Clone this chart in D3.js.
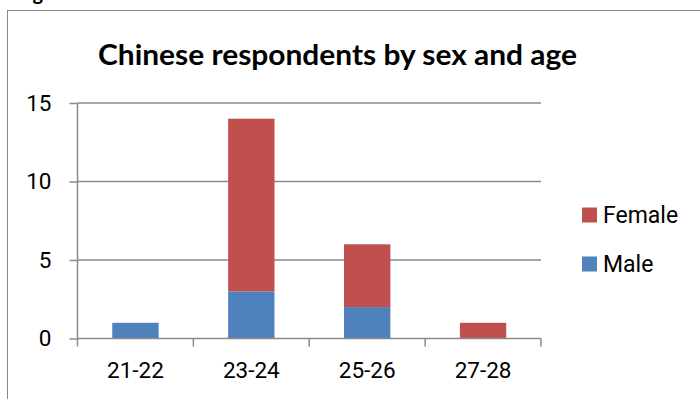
<!DOCTYPE html>
<html>
<head>
<meta charset="utf-8">
<script src="https://cdn.jsdelivr.net/npm/d3@7"></script>
<style>
  html, body { margin: 0; padding: 0; background: #fff; overflow: hidden; }
  svg { display: block; }
</style>
</head>
<body>
<svg id="chart" width="700" height="399"></svg>
<script>
// Respondent counts by age band, split by sex
const ageGroups = ["21-22", "23-24", "25-26", "27-28"];
const maleCounts = [1, 3, 2, 0];
const femaleCounts = [0, 11, 4, 1];
const yTicks = [0, 5, 10, 15];
const seriesNames = ["Male", "Female"];
const seriesColors = ["#4F81BD", "#C0504D"];

const rows = ageGroups.map((g, i) => ({ group: g, Male: maleCounts[i], Female: femaleCounts[i] }));

const svg = d3.select("#chart");
const gridColor = "#8a8a8a";
const labelFont = "Roboto, 'Liberation Sans', sans-serif";

// Caption above the chart frame (its top runs off the page)
svg.append("text")
  .attr("x", 16).attr("y", 0)
  .attr("font-family", "Lato, 'Open Sans', sans-serif")
  .attr("font-weight", "bold")
  .attr("font-size", 20)
  .attr("fill", "#000")
  .text("Figure");

// Chart frame
svg.append("rect")
  .attr("x", 7.5).attr("y", 10.5)
  .attr("width", 720).attr("height", 420)
  .attr("fill", "none")
  .attr("stroke", "#868686")
  .attr("stroke-width", 1);

// Title
svg.append("text")
  .attr("x", 98).attr("y", 65)
  .attr("textLength", 479)
  .attr("lengthAdjust", "spacingAndGlyphs")
  .attr("font-family", "Lato, 'Open Sans', sans-serif")
  .attr("font-weight", "bold")
  .attr("font-size", 28)
  .attr("fill", "#000")
  .text("Chinese respondents by sex and age");

const plot = { left: 77.5, right: 541, top: 103, bottom: 338.5 };

const x = d3.scaleBand()
  .domain(ageGroups)
  .range([plot.left, plot.right])
  .paddingInner(0.6)
  .paddingOuter(0.3);

const y = d3.scaleLinear()
  .domain([0, 15])
  .range([plot.bottom, plot.top]);

// Horizontal gridlines
svg.append("g")
  .selectAll("line")
  .data(yTicks.filter(t => t > 0))
  .join("line")
  .attr("x1", plot.left).attr("x2", plot.right)
  .attr("y1", d => y(d)).attr("y2", d => y(d))
  .attr("stroke", gridColor)
  .attr("stroke-width", 1.5);

// Stacked bars
const stacked = d3.stack().keys(seriesNames)(rows);
svg.append("g")
  .selectAll("g")
  .data(stacked)
  .join("g")
  .attr("fill", (d, i) => seriesColors[i])
  .selectAll("rect")
  .data(d => d.filter(s => s[1] - s[0] > 0))
  .join("rect")
  .attr("x", d => x(d.data.group))
  .attr("width", x.bandwidth())
  .attr("y", d => y(d[1]))
  .attr("height", d => y(d[0]) - y(d[1]));

// Y axis
const yAxis = svg.append("g")
  .attr("transform", `translate(${plot.left},0)`)
  .call(d3.axisLeft(y).tickValues(yTicks).tickSize(8).tickPadding(18));
yAxis.selectAll("line, path").attr("stroke", gridColor).attr("stroke-width", 1.5);
yAxis.select(".domain").attr("d", `M0,${plot.top}V${plot.bottom}`);
yAxis.selectAll("text")
  .attr("font-family", labelFont)
  .attr("font-size", 22.5)
  .attr("fill", "#000");

// X axis with ticks at band boundaries
const xAxis = svg.append("g")
  .attr("transform", `translate(0,${plot.bottom})`)
  .call(d3.axisBottom(x).tickSize(0).tickPadding(24));
xAxis.select(".domain").attr("stroke", gridColor).attr("stroke-width", 1.5)
  .attr("d", `M${plot.left},0H${plot.right}`);
xAxis.selectAll("text")
  .attr("font-family", labelFont)
  .attr("font-size", 22.5)
  .attr("fill", "#000");
const boundaries = d3.range(ageGroups.length + 1).map(i => plot.left + i * (plot.right - plot.left) / ageGroups.length);
xAxis.append("g")
  .selectAll("line")
  .data(boundaries)
  .join("line")
  .attr("x1", d => d).attr("x2", d => d)
  .attr("y1", 0).attr("y2", 8)
  .attr("stroke", gridColor)
  .attr("stroke-width", 1.5);

// Legend (Female listed above Male)
const legendItems = [
  { name: "Female", color: seriesColors[1], y: 207.5 },
  { name: "Male", color: seriesColors[0], y: 256.5 }
];
const legend = svg.append("g")
  .selectAll("g")
  .data(legendItems)
  .join("g")
  .attr("transform", d => `translate(582,${d.y})`);
legend.append("rect")
  .attr("width", 15).attr("height", 15)
  .attr("fill", d => d.color);
legend.append("text")
  .attr("x", 21).attr("y", 15)
  .attr("font-family", labelFont)
  .attr("font-size", 23)
  .attr("fill", "#000")
  .text(d => d.name);
</script>
</body>
</html>
